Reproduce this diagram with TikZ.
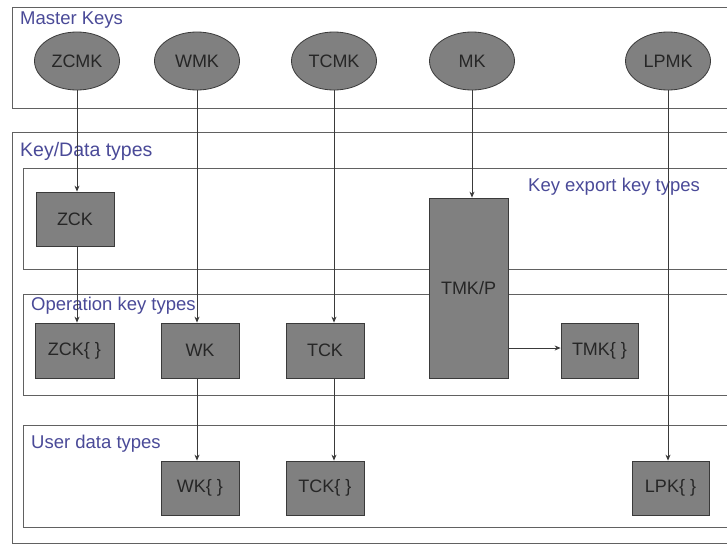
\documentclass[tikz,border=0pt]{standalone}
\usepackage{fontspec}
\setmainfont{Liberation Sans}
\usetikzlibrary{shapes.geometric,arrows.meta}
\definecolor{lbl}{HTML}{4A4A98}
\definecolor{fillg}{HTML}{808080}
\definecolor{edge}{HTML}{3A3A3A}
\begin{document}
\begin{tikzpicture}[x=1pt,y=-1pt,
  panel/.style={draw=edge!80,line width=0.9pt},
  lbltext/.style={text=lbl,font=\fontsize{18.5}{20}\selectfont,inner sep=0pt,anchor=base west},
  mkey/.style={ellipse,draw=edge,fill=fillg,line width=0.8pt,minimum width=85pt,minimum height=58pt,inner sep=0pt,font=\fontsize{18}{20}\selectfont,text=black!85},
  kbox/.style={rectangle,draw=edge,fill=fillg,line width=0.8pt,inner sep=0pt,font=\fontsize{18}{20}\selectfont,text=black!85},
  conn/.style={draw=edge,line width=0.8pt,-{Stealth[length=6pt,width=5pt]}}]
\useasboundingbox (0,0) rectangle (727,544);
\clip (0,0) rectangle (727,544);
\fill[white] (0,0) rectangle (727,544);
% panels
\draw[panel] (12,7) rectangle (745,108);
\draw[panel] (12,132) rectangle (745,543);
\draw[panel] (23,168) rectangle (745,269);
\draw[panel] (23,294) rectangle (745,395);
\draw[panel] (23,425) rectangle (745,527);
% labels
\node[lbltext] (lmaster) at (20,24) {Master Keys};
\node[lbltext,font=\fontsize{19.5}{21}\selectfont] (ldata) at (20,156) {Key/Data types};
\node[lbltext] (lexport) at (528,191) {Key export key types};
\node[lbltext] (loper) at (31,310) {Operation key types};
\node[lbltext] (luser) at (31,448) {User data types};
% master keys
\node[mkey] (zcmk) at (77,61) {ZCMK};
\node[mkey] (wmk) at (197,61) {WMK};
\node[mkey] (tcmk) at (334,61) {TCMK};
\node[mkey] (mk) at (472,61) {MK};
\node[mkey] (lpmk) at (668,61) {LPMK};
% boxes
\node[kbox,minimum width=78pt,minimum height=54pt] (zck) at (75,219) {ZCK};
\node[kbox,minimum width=79pt,minimum height=180pt] (tmkp) at (468.5,288) {TMK/P};
\node[kbox,minimum width=79pt,minimum height=55pt] (zckop) at (74.5,350.5) {ZCK\{ \}};
\node[kbox,minimum width=78pt,minimum height=55pt] (wk) at (200,350.5) {WK};
\node[kbox,minimum width=78pt,minimum height=55pt] (tck) at (325,350.5) {TCK};
\node[kbox,minimum width=77pt,minimum height=55pt] (tmkop) at (599.5,350.5) {TMK\{ \}};
\node[kbox,minimum width=78pt,minimum height=54pt] (wkud) at (200,488) {WK\{ \}};
\node[kbox,minimum width=78pt,minimum height=54pt] (tckud) at (325,488) {TCK\{ \}};
\node[kbox,minimum width=77pt,minimum height=54pt] (lpk) at (670.5,488) {LPK\{ \}};
% connectors
\draw[conn] (zcmk.south) -- (zcmk.south |- zck.north);
\draw[conn] (zcmk.south |- zck.south) -- (zcmk.south |- zckop.north);
\draw[conn] (wmk.south) -- (wmk.south |- wk.north);
\draw[conn] (wmk.south |- wk.south) -- (wmk.south |- wkud.north);
\draw[conn] (tcmk.south) -- (tcmk.south |- tck.north);
\draw[conn] (tcmk.south |- tck.south) -- (tcmk.south |- tckud.north);
\draw[conn] (mk.south) -- (mk.south |- tmkp.north);
\draw[conn] (lpmk.south) -- (lpmk.south |- lpk.north);
\draw[conn] ([yshift=2.5pt]tmkp.east |- tmkop.west) -- ([yshift=2.5pt]tmkop.west);
\end{tikzpicture}
\end{document}
